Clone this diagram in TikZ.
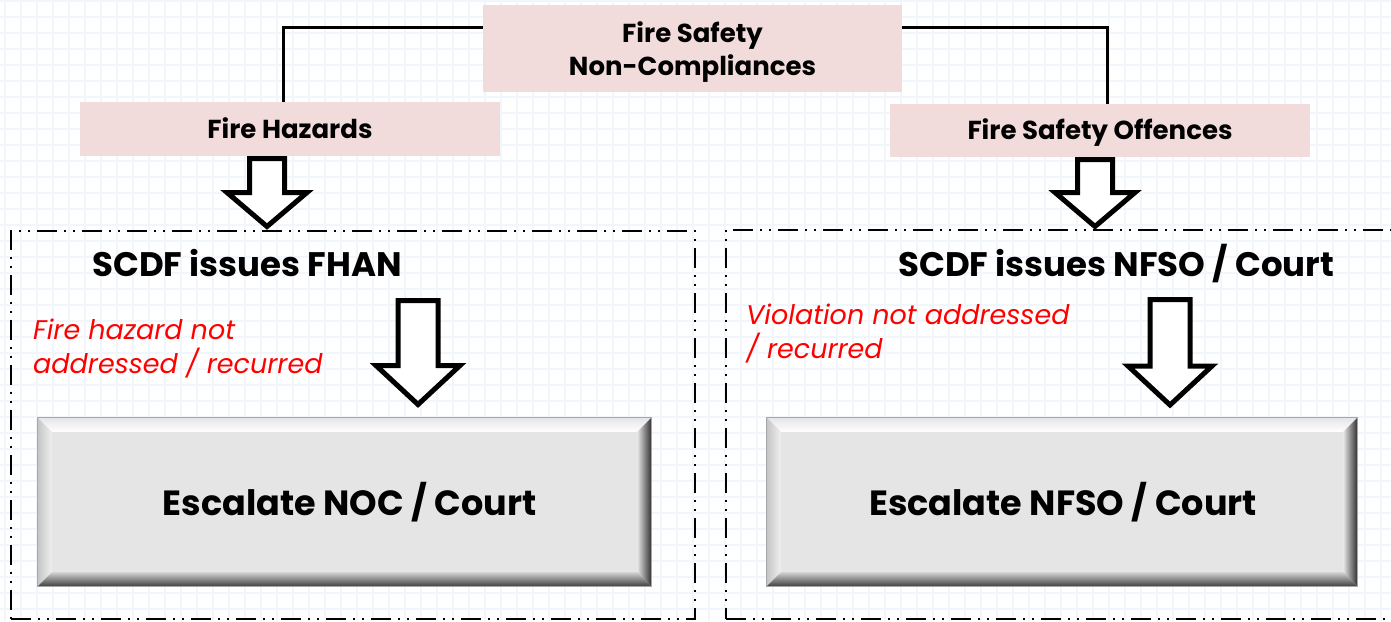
\documentclass[tikz,border=0pt]{standalone}
\usepackage{fontspec}
\setmainfont{Poppins}
\usetikzlibrary{calc}
\definecolor{pinkfill}{HTML}{F2DCDB}
\definecolor{gridc}{HTML}{F1F5FC}
\definecolor{facegray}{HTML}{E5E5E5}
\definecolor{redtext}{HTML}{FF0000}
\newcommand\blockarrow[5]{% #1 top, #2 tip, #3 head length, #4 shaft half, #5 head half
  \draw[blockarr] let \p1=(#1), \p2=(#2) in
    (\x2-#4,\y1-2.5pt) -- (\x2+#4,\y1-2.5pt) -- (\x2+#4,\y2+#3) -- (\x2+#5,\y2+#3)
    -- (\x2,\y2) -- (\x2-#5,\y2+#3) -- (\x2-#4,\y2+#3) -- cycle;}
\newcommand\bevel[1]{%
  \shade[top color=gray!20, bottom color=white] (#1.north west) -- (#1.north east)
    -- ([xshift=-14pt,yshift=-14pt]#1.north east) -- ([xshift=14pt,yshift=-14pt]#1.north west) -- cycle;
  \shade[left color=gray!45, right color=gray!12] (#1.north west) -- ([xshift=14pt,yshift=-14pt]#1.north west)
    -- ([xshift=14pt,yshift=14pt]#1.south west) -- (#1.south west) -- cycle;
  \shade[left color=gray!20, right color=black!80] (#1.north east) -- (#1.south east)
    -- ([xshift=-14pt,yshift=14pt]#1.south east) -- ([xshift=-14pt,yshift=-14pt]#1.north east) -- cycle;
  \shade[top color=gray!35, bottom color=black!75] (#1.south west) -- ([xshift=14pt,yshift=14pt]#1.south west)
    -- ([xshift=-14pt,yshift=14pt]#1.south east) -- (#1.south east) -- cycle;
  \draw[gray!70, line width=0.8pt] (#1.north west) rectangle (#1.south east);}
\begin{document}
\begin{tikzpicture}[x=1pt,y=-1pt,
  gridline/.style={gridc, line width=1.6pt},
  pinkbox/.style={fill=pinkfill, draw=none, inner sep=0pt, align=center, text depth=0pt,
    font=\bfseries\fontsize{26}{33}\selectfont},
  dashbox/.style={draw=black, line width=2pt, inner sep=0pt,
    dash pattern=on 20pt off 7pt on 2pt off 7pt on 2pt off 7pt},
  bevelbox/.style={fill=facegray, draw=none, inner sep=0pt},
  boxtext/.style={inner sep=0pt, font=\bfseries\fontsize{35}{42}\selectfont},
  headtext/.style={inner sep=0pt, anchor=base west, font=\bfseries\fontsize{34}{40}\selectfont},
  redlabel/.style={inner sep=0pt, anchor=base west, align=left, text=redtext,
    font=\itshape\fontsize{27}{34}\selectfont},
  connector/.style={draw=black, line width=3pt},
  blockarr/.style={draw=black, fill=white, line width=5pt, miter limit=10}]
\useasboundingbox (0,0) rectangle (1391,621);
\clip (0,0) rectangle (1391,621);
\fill[white] (0,0) rectangle (1391,621);
\foreach \gx in {5,21,...,1391} \draw[gridline] (\gx,0) -- (\gx,621);
\foreach \gy in {1,17,...,621} \draw[gridline] (0,\gy) -- (1391,\gy);

% containers
\node[dashbox, minimum width=684pt, minimum height=388pt] (lbox) at (353,424.5) {};
\node[dashbox, minimum width=674pt, minimum height=389pt] (rbox) at (1063,424.5) {};

% top boxes
\node[pinkbox, minimum width=419pt, minimum height=87pt] (top) at (692.5,48.5) {Fire Safety\\Non-Compliances};
\node[pinkbox, minimum width=420pt, minimum height=54pt, text height=18pt] (fh) at (290,129) {Fire Hazards};
\node[pinkbox, minimum width=420pt, minimum height=53pt, text height=18pt] (fso) at (1100,130.5) {Fire Safety Offences};

\draw[connector] ([yshift=-23pt]top.north west) -| ([xshift=-7pt]fh.north);
\draw[connector] ([yshift=-23pt]top.north east) -| ([xshift=7pt]fso.north);

% headings and labels
\node[headtext] (hl) at (92,276) {SCDF issues FHAN};
\node[headtext] (hr) at (898,276) {SCDF issues NFSO / Court};
\node[redlabel] (rl) at (33,373.5) {Fire hazard not\\addressed / recurred};
\node[redlabel] (rr) at (746,358.5) {Violation not addressed\\/ recurred};

% escalate boxes
\node[bevelbox, minimum width=613pt, minimum height=168pt] (le) at (344.5,502) {};
\bevel{le}
\node[boxtext] (let) at ([xshift=5pt]le.center) {Escalate NOC / Court};
\node[bevelbox, minimum width=590pt, minimum height=168pt] (re) at (1062,502) {};
\bevel{re}
\node[boxtext] (ret) at ([xshift=1pt]re.center) {Escalate NFSO / Court};

% block arrows
\coordinate (t1) at (267,226.5);
\coordinate (t2) at (1095,226.5);
\coordinate (m1s) at (418,298);
\coordinate (m1) at (418,404.5);
\coordinate (m2s) at (1170,297);
\coordinate (m2) at (1170,405);
\blockarrow{fh.south}{t1}{34pt}{17.5pt}{40pt}
\blockarrow{fso.south}{t2}{34pt}{17.5pt}{40pt}
\blockarrow{m1s}{m1}{39pt}{20pt}{42pt}
\blockarrow{m2s}{m2}{39pt}{20pt}{42pt}
\end{tikzpicture}
\end{document}
